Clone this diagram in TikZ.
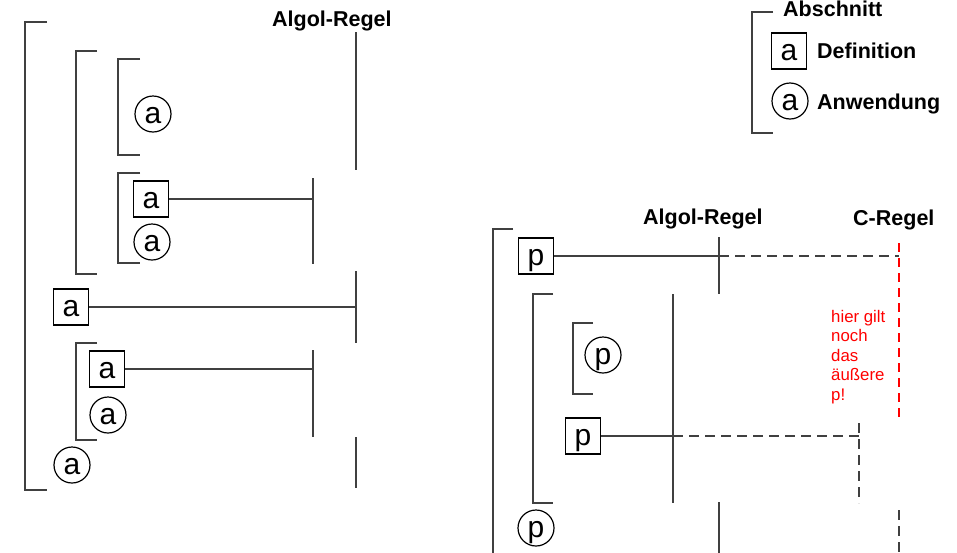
\documentclass[tikz,border=0pt]{standalone}
\usepackage{fontspec}
\setmainfont{Liberation Sans}
\newcommand{\glyphfont}{\fontsize{30}{30}\selectfont}
\begin{document}
\begin{tikzpicture}[x=1pt,y=-1pt,
  ln/.style={line width=1.2pt, draw=black!75},
  cdash/.style={ln, dash pattern=on 10pt off 6pt},
  rdash/.style={line width=1.2pt, draw=red, dash pattern=on 9pt off 6pt},
  defbox/.style={ln, draw=black, rectangle, minimum width=35pt, minimum height=36pt,
    inner sep=0pt, text height=19pt, text depth=0pt, font=\glyphfont},
  usecirc/.style={ln, draw=black, circle, minimum size=36pt, inner sep=0pt,
    text height=19pt, text depth=0pt, font=\glyphfont},
  head/.style={anchor=base west, inner sep=0pt, font=\fontsize{21.5}{24}\selectfont\bfseries},
  note/.style={anchor=base west, inner sep=0pt, text=red, font=\fontsize{16.8}{19.5}\selectfont}
]
\useasboundingbox (0,0) rectangle (957,552);

% ---------- left program: Algol scoping ----------
\node[head] (algolL) at (272,26) {Algol-Regel};

% nested sections
\draw[ln] (47,22) -- (25,22) -- (25,490) -- (47,490);
\draw[ln] (97,51) -- (76,51) -- (76,274) -- (97,274);
\draw[ln] (140,59) -- (118,59) -- (118,155) -- (140,155);
\draw[ln] (140,173) -- (118,173) -- (118,263) -- (140,263);
\draw[ln] (97,343) -- (76,343) -- (76,440) -- (97,440);

% definitions and uses
\node[usecirc] (u1) at (153,114) {a};
\node[defbox]  (d1) at (151,199) {a};
\node[usecirc] (u2) at (152,242) {a};
\node[defbox]  (d2) at (71,307) {a};
\node[defbox]  (d3) at (107,369) {a};
\node[usecirc] (u3) at (108,415) {a};
\node[usecirc] (u4) at (72,465) {a};

% validity ranges
\coordinate (r1t) at (356,32);  \coordinate (r1b) at (356,170);
\coordinate (r2t) at (313,178); \coordinate (r2b) at (313,264);
\coordinate (r3t) at (356,271); \coordinate (r3b) at (356,343);
\coordinate (r4t) at (313,350); \coordinate (r4b) at (313,437);
\coordinate (r5t) at (356,437); \coordinate (r5b) at (356,488);
\foreach \r in {1,...,5} \draw[ln] (r\r t) -- (r\r b);

\draw[ln] (d1.east) -- (d1 -| r2t);
\draw[ln] (d2.east) -- (d2 -| r3t);
\draw[ln] (d3.east) -- (d3 -| r4t);

% ---------- legend ----------
\draw[ln] (773,12) -- (752,12) -- (752,133) -- (773,133);
\node[head] (abs) at (783,16) {Abschnitt};
\node[defbox]  (ld) at (789,51) {a};
\node[usecirc] (lu) at (790,101) {a};
\node[head] (ldt) at (817,58) {Definition};
\node[head] (lut) at (817,109) {Anwendung};

% ---------- right program: Algol vs. C ----------
\node[head] (algolR) at (643,224) {Algol-Regel};
\node[head] (cregel) at (853,225) {C-Regel};

\draw[ln] (513,229) -- (493,229) -- (493,560);
\draw[ln] (553,294) -- (533,294) -- (533,503) -- (553,503);
\draw[ln] (593,323) -- (573,323) -- (573,394) -- (593,394);

\node[defbox]  (p1) at (536,256) {p};
\node[usecirc] (p2) at (603,355) {p};
\node[defbox]  (p3) at (583,436) {p};
\node[usecirc] (p4) at (536,528) {p};

% Algol ranges (solid)
\coordinate (a1t) at (719,237); \coordinate (a1b) at (719,294);
\coordinate (a2t) at (673,294); \coordinate (a2b) at (673,503);
\coordinate (a3t) at (719,502); \coordinate (a3b) at (719,560);
\foreach \r in {1,2,3} \draw[ln] (a\r t) -- (a\r b);

% C ranges (dashed)
\coordinate (c1t) at (899,243); \coordinate (c1b) at (899,417);
\coordinate (c2t) at (859,423); \coordinate (c2b) at (859,503);
\coordinate (c3t) at (899,510); \coordinate (c3b) at (899,560);
\draw[rdash] (c1t) -- (c1b);
\draw[cdash] (c2t) -- (c2b);
\draw[cdash] (c3t) -- (c3b);

\draw[ln] (p1.east) -- (p1 -| a1t);
\draw[cdash] (p1 -| a1t) -- (p1 -| c1t);
\draw[ln] (p3.east) -- (p3 -| a2t);
\draw[cdash] (p3 -| a2t) -- (p3 -| c2t);

\node[note] (n1) at (831,322) {hier gilt};
\node[note] (n2) at (831,341) {noch};
\node[note] (n3) at (831,361) {das};
\node[note] (n4) at (831,380) {äußere};
\node[note] (n5) at (831,400) {p!};
\end{tikzpicture}
\end{document}
